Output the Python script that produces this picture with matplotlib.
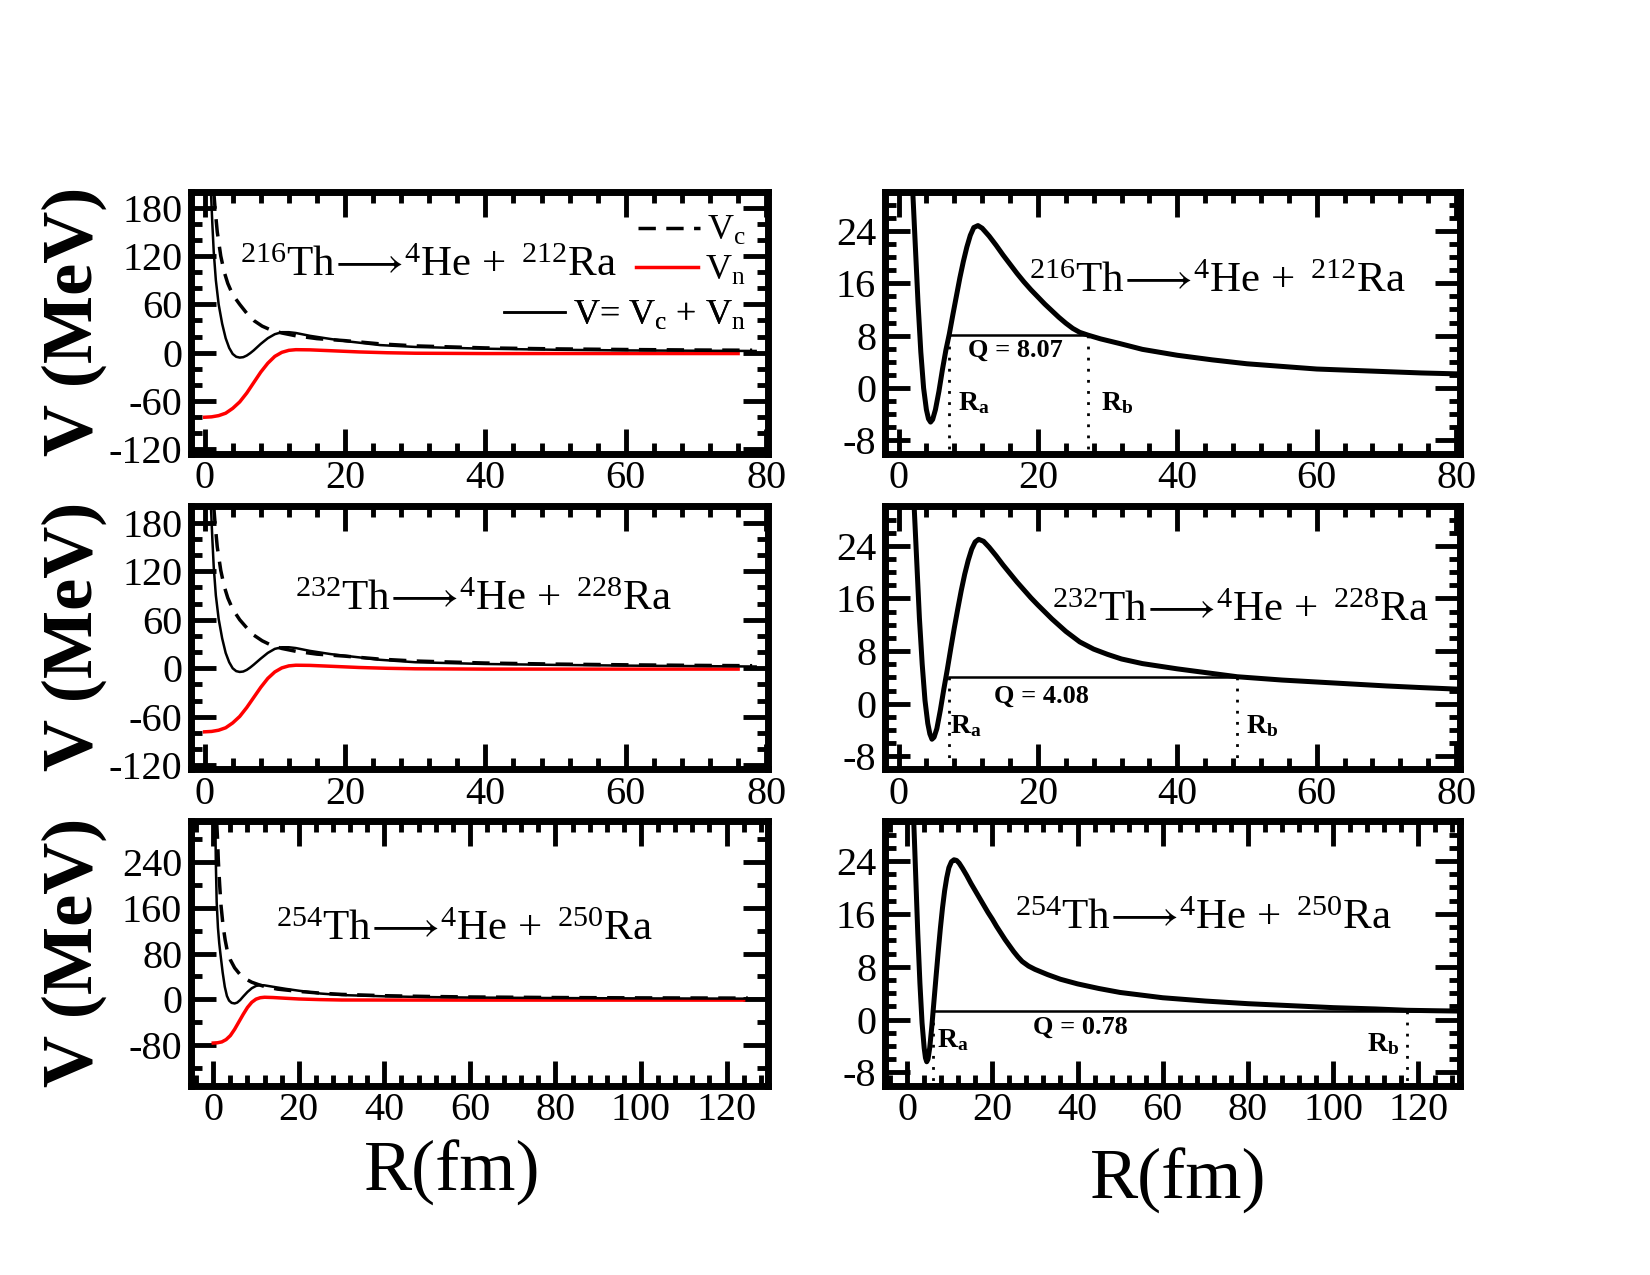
import numpy as np
import matplotlib
matplotlib.use("Agg")
import matplotlib.pyplot as plt
from matplotlib.ticker import MultipleLocator

plt.rcParams['font.family'] = ['Liberation Serif', 'DejaVu Serif']
plt.rcParams['mathtext.fontset'] = 'custom'
plt.rcParams['mathtext.rm'] = 'Liberation Serif'
plt.rcParams['mathtext.it'] = 'Liberation Serif:italic'
plt.rcParams['mathtext.bf'] = 'Liberation Serif:bold'
plt.rcParams['mathtext.fallback'] = 'stix'
plt.rcParams['axes.unicode_minus'] = False

# ---- left column: Coulomb (Vc), nuclear (Vn) and total (V) potentials ----
r_vc_216 = [1.3, 1.5, 1.8, 2.3, 2.8, 3.3, 4.0, 5.0, 6.0, 7.0, 8.2, 9.5, 11, 13, 16, 20, 25, 30, 40, 50, 60, 70, 78]
vc_216 = [200, 178, 150, 120, 100, 86, 72, 60, 49, 40, 33, 28, 24.5, 21, 17.5, 15, 11, 8.5, 6.0, 4.8, 4.0, 3.4, 3.1]
r_vn_216 = [0, 1, 2, 3, 4, 5, 6, 7, 8, 9, 10, 11, 12, 13, 15, 18, 22, 26, 30, 40, 60, 76]
vn_216 = [-80, -79.5, -78, -75, -69, -61, -50, -37, -24, -13, -4.5, 0.5, 3, 3.8, 3.6, 2.5, 1.0, 0, -0.6, -1, -1, -1]
r_v_216 = [0.9, 1.1, 1.3, 1.6, 2.0, 2.5, 3.0, 3.5, 4.0, 4.5, 5.0, 5.5, 6.0, 6.5, 7.0, 8.0, 9.0, 10.0, 11.0, 12.0,
           13, 15, 18, 20, 25, 30, 40, 50, 60, 70, 78.5]
v_216 = [200, 160, 125, 90, 60, 36, 18, 6, -1.5, -5, -6, -5.5, -3.5, -0.5, 3, 11, 18, 23, 25.5, 25.5,
         24.5, 21, 17, 14.5, 9.5, 7.2, 5.0, 3.7, 2.9, 2.5, 2.2]

r_vc_232 = [1.3, 1.5, 1.8, 2.3, 2.8, 3.3, 4.0, 5.0, 6.0, 7.0, 8.2, 9.5, 11, 13, 16, 20, 25, 30, 40, 50, 60, 70, 78]
vc_232 = [200, 178, 150, 121, 101, 87, 73, 60, 50, 41, 34, 28.5, 24.5, 21, 17.5, 15, 11.3, 9.0, 6.5, 5.2, 4.3, 3.6, 3.2]
r_vn_232 = [0, 1, 2, 3, 4, 5, 6, 7, 8, 9, 10, 11, 12, 13, 15, 18, 22, 26, 30, 40, 60, 76]
vn_232 = [-78.5, -78, -76.5, -73.5, -67.5, -59.5, -48.5, -36, -23.5, -12.5, -4.5, 0.5, 3, 3.8, 3.6, 2.5, 1.0, 0, -0.6, -1, -1, -1]
r_v_232 = [0.9, 1.1, 1.3, 1.6, 2.0, 2.5, 3.0, 3.5, 4.0, 4.5, 5.0, 5.5, 6.0, 6.5, 7.0, 8.0, 9.0, 10.0, 11.0, 12.0,
           13, 15, 18, 20, 25, 30, 40, 50, 60, 70, 78.5]
v_232 = [200, 160, 125, 90, 61, 37, 19, 7.5, 0, -3.5, -4.5, -4, -2, 1, 4.5, 12, 19, 24, 26, 26,
         25, 21.5, 17.5, 15.5, 10.5, 7.5, 5.3, 4.2, 3.3, 2.7, 2.2]

r_vc_254 = [0.8, 1.0, 1.2, 1.5, 1.8, 2.3, 2.8, 3.3, 4.0, 5.0, 6.2, 7.5, 9.0, 10.5, 12, 15, 20, 25, 30, 40, 50, 60, 80, 100, 125]
vc_254 = [310, 280, 240, 200, 165, 128, 103, 84, 69, 55, 44, 36, 30, 26, 22.5, 18, 14, 11, 8.8, 6.5, 5.2, 4.3, 3.3, 2.7, 2.3]
r_vn_254 = [0, 1, 2, 3, 4, 5, 6, 7, 8, 9, 10, 11, 12, 14, 17, 20, 25, 30, 60, 124]
vn_254 = [-76, -75.5, -74, -70, -63, -52, -39, -26, -14, -5, 0.5, 3, 3.8, 3.3, 2, 0.8, -0.3, -1, -1.2, -1.2]
r_v_254 = [0.5, 0.6, 0.8, 1.1, 1.4, 1.7, 2.2, 2.7, 3.2, 3.7, 4.3, 5.0, 5.6, 6.3, 7.0, 8.0, 9.0, 10.0, 11.0, 12.0,
           14, 17, 20, 25, 30, 40, 50, 60, 80, 100, 129.5]
v_254 = [310, 240, 170, 125, 98, 78, 47, 22, 6, -2, -6, -7, -5.5, -1, 5, 13, 19.5, 23.5, 25, 24.5,
         22, 18.4, 15.2, 10.3, 7.6, 5.4, 4.1, 3.3, 2.4, 1.8, 1.3]

# ---- right column: total potential zoomed, with Q value and turning points ----
r_216 = [2.0, 2.4, 2.8, 3.2, 3.6, 4.0, 4.3, 4.6, 4.9, 5.3, 5.8, 6.3, 6.8, 7.3, 7.8, 8.3, 8.8, 9.3, 9.8, 10.3,
         10.8, 11.4, 12, 13, 14, 15, 16, 17, 18, 19, 20, 21, 22, 23, 24, 25, 26, 27.2, 29, 31.7,
         35, 40, 45, 50, 55, 60, 65, 70, 75, 80.5]
V_216 = [31, 22, 13, 5.5, 0, -3.3, -4.7, -5.2, -4.8, -3.3, -0.5, 2.8, 5.8, 8.3, 11.2, 14, 16.8, 19.3, 21.5, 23.3,
         24.5, 24.8, 24.4, 23.2, 21.8, 20.3, 18.9, 17.5, 16.2, 15.0, 13.9, 12.8, 11.8, 10.8, 9.9, 9.1, 8.5, 8.07, 7.5, 6.8,
         5.9, 5.0, 4.3, 3.7, 3.3, 2.9, 2.7, 2.5, 2.3, 2.15]
r_232 = [2.2, 2.6, 3.0, 3.4, 3.8, 4.2, 4.5, 4.8, 5.1, 5.5, 6.0, 6.5, 7.0, 7.5, 8.0, 8.5, 9.0, 9.5, 10.0, 10.5,
         11.0, 11.5, 12.2, 13, 14, 15, 16, 17, 18, 19, 20, 22, 24, 26, 28, 30, 32, 35, 40, 45,
         48.6, 55, 60, 65, 70, 75, 80.5]
V_232 = [31, 22, 13, 6, 0.5, -3, -4.6, -5.4, -5.1, -3.8, -1, 2.2, 5.2, 8.4, 11.5, 14.4, 17.2, 19.7, 21.8, 23.5,
         24.6, 25.0, 24.7, 23.8, 22.5, 21.1, 19.8, 18.5, 17.3, 16.1, 15.0, 12.9, 11.0, 9.4, 8.3, 7.5, 6.8, 6.1, 5.3, 4.6,
         4.1, 3.6, 3.3, 3.0, 2.7, 2.45, 2.2]
r_254 = [1.5, 2.0, 2.5, 3.0, 3.5, 4.0, 4.3, 4.6, 4.9, 5.3, 5.8, 6.3, 6.8, 7.3, 7.8, 8.3, 8.8, 9.3, 9.8, 10.4,
         11.0, 11.6, 12.2, 13, 14, 15, 16, 17, 18, 19, 20, 21, 22, 23, 24, 25, 26, 27, 28.5, 30,
         33, 36, 40, 45, 50, 55, 60, 70, 80, 90, 100, 110, 117.3, 124, 129.7]
V_254 = [31, 22, 13, 5.5, -0.5, -4.3, -5.8, -6.4, -6.0, -4.3, -1, 2.8, 6.6, 10.3, 13.8, 16.9, 19.5, 21.5, 23.0, 23.9,
         24.2, 24.1, 23.7, 22.9, 21.8, 20.6, 19.5, 18.4, 17.3, 16.2, 15.2, 14.1, 13.1, 12.1, 11.2, 10.3, 9.5, 8.8, 8.1, 7.6,
         6.8, 6.1, 5.4, 4.7, 4.1, 3.7, 3.3, 2.8, 2.4, 2.1, 1.8, 1.6, 1.4, 1.33, 1.28]

parent = ["216", "232", "254"]
daughter = ["212", "228", "250"]
q_text = ["8.07", "4.08", "0.78"]
q_level = [8.07, 4.08, 1.35]
r_a = [7.3, 7.3, 6.1]
r_b = [27.2, 48.6, 117.3]
q_end = [27.2, 48.6, 129.7]


def style_axes(ax, xmaj, xmin, ymaj, ymin):
    for sp in ax.spines.values():
        sp.set_linewidth(5)
    ax.xaxis.set_major_locator(MultipleLocator(xmaj))
    ax.xaxis.set_minor_locator(MultipleLocator(xmin))
    ax.yaxis.set_major_locator(MultipleLocator(ymaj))
    ax.yaxis.set_minor_locator(MultipleLocator(ymin))
    ax.tick_params(which='both', direction='in', top=True, right=True, width=3.5, labelsize=29)
    ax.tick_params(which='major', length=18)
    ax.tick_params(which='minor', length=8)
    ax.tick_params(axis='x', pad=5)
    ax.tick_params(axis='y', pad=6)


def reaction(i):
    return (r'$^{%s}\mathrm{Th}\!\longrightarrow\!{}^{4}\mathrm{He}\,+\;{}^{%s}\mathrm{Ra}$'
            % (parent[i], daughter[i]))


def add_entry(ax, line, label, y):
    leg = ax.legend([line], [label], loc='center right', bbox_to_anchor=(0.962, y),
                    frameon=False, fontsize=26, handlelength=1.7, handletextpad=0.2,
                    borderpad=0, borderaxespad=0)
    ax.add_artist(leg)


fig = plt.figure(figsize=(16.5, 12.75), dpi=100)

row_bottom = [0.6443, 0.3965, 0.1486]
row_height = [0.2055, 0.2063, 0.2071]

left_data = [(r_vc_216, vc_216, r_vn_216, vn_216, r_v_216, v_216),
             (r_vc_232, vc_232, r_vn_232, vn_232, r_v_232, v_232),
             (r_vc_254, vc_254, r_vn_254, vn_254, r_v_254, v_254)]
right_data = [(r_216, V_216), (r_232, V_232), (r_254, V_254)]

left_text_pos = [(0.086, 0.677), (0.181, 0.606), (0.148, 0.551)]
right_text_pos = [(0.251, 0.616), (0.291, 0.565), (0.227, 0.593)]
q_text_pos = [(10.0, 5.8), (13.7, 1.2), (29.5, -1.1)]
ra_text_pos = [(8.6, -2.3), (7.4, -3.4), (6.9, -3.2)]
rb_text_pos = [(29.0, -2.3), (49.8, -3.4), (108.0, -3.8)]

for i in range(3):
    # left panel
    ax = fig.add_axes([0.1155, row_bottom[i], 0.3497, row_height[i]])
    rvc, vc, rvn, vn, rv, v = left_data[i]
    l_c, = ax.plot(rvc, vc, color='black', lw=2.5, ls=(0, (5, 3)))
    l_n, = ax.plot(rvn, vn, color='red', lw=2.5)
    l_v, = ax.plot(rv, v, color='black', lw=1.8)
    if i < 2:
        ax.set_xlim(-2, 80.2)
        ax.set_ylim(-125, 200)
        style_axes(ax, 20, 4, 60, 20)
    else:
        ax.set_xlim(-5.3, 129.6)
        ax.set_ylim(-150, 310)
        style_axes(ax, 20, 4, 80, 40)
        ax.set_xlabel('R(fm)', fontsize=52, va='center')
        ax.xaxis.set_label_coords(0.453, -0.33)
    ax.set_ylabel('V (MeV)', fontsize=52, fontweight='bold', va='center')
    ax.yaxis.set_label_coords(-0.202, 0.505)
    ax.text(left_text_pos[i][0], left_text_pos[i][1], reaction(i), transform=ax.transAxes,
            fontsize=31, ha='left', va='baseline')
    if i == 0:
        add_entry(ax, l_c, r'V$_\mathrm{c}$', 0.847)
        add_entry(ax, l_n, r'V$_\mathrm{n}$', 0.695)
        add_entry(ax, l_v, r'V= V$_\mathrm{c}$ + V$_\mathrm{n}$', 0.525)

    # right panel
    ax = fig.add_axes([0.5361, row_bottom[i], 0.3485, row_height[i]])
    r, V = right_data[i]
    ax.plot(r, V, color='black', lw=3.6)
    ax.plot([r_a[i], q_end[i]], [q_level[i], q_level[i]], color='black', lw=1.8)
    ax.plot([r_a[i], r_a[i]], [q_level[i], -10], color='black', lw=2, ls=(0, (1, 3)))
    ax.plot([r_b[i], r_b[i]], [q_level[i], -10], color='black', lw=2, ls=(0, (1, 3)))
    ax.set_ylim(-10, 30)
    if i < 2:
        ax.set_xlim(-2, 80.5)
    else:
        ax.set_xlim(-5.3, 129.7)
        ax.set_xlabel('R(fm)', fontsize=52, va='center')
        ax.xaxis.set_label_coords(0.51, -0.36)
    style_axes(ax, 20, 4, 8, 2)
    ax.text(right_text_pos[i][0], right_text_pos[i][1], reaction(i), transform=ax.transAxes,
            fontsize=31, ha='left', va='baseline')
    ax.text(q_text_pos[i][0], q_text_pos[i][1], 'Q = ' + q_text[i], fontsize=19,
            fontweight='bold', ha='left', va='center')
    ax.text(ra_text_pos[i][0], ra_text_pos[i][1], r'$\mathbf{R}_\mathbf{a}$', fontsize=20,
            ha='left', va='center')
    ax.text(rb_text_pos[i][0], rb_text_pos[i][1], r'$\mathbf{R}_\mathbf{b}$', fontsize=20,
            ha='left', va='center')

fig.savefig('out.png', dpi=100)
